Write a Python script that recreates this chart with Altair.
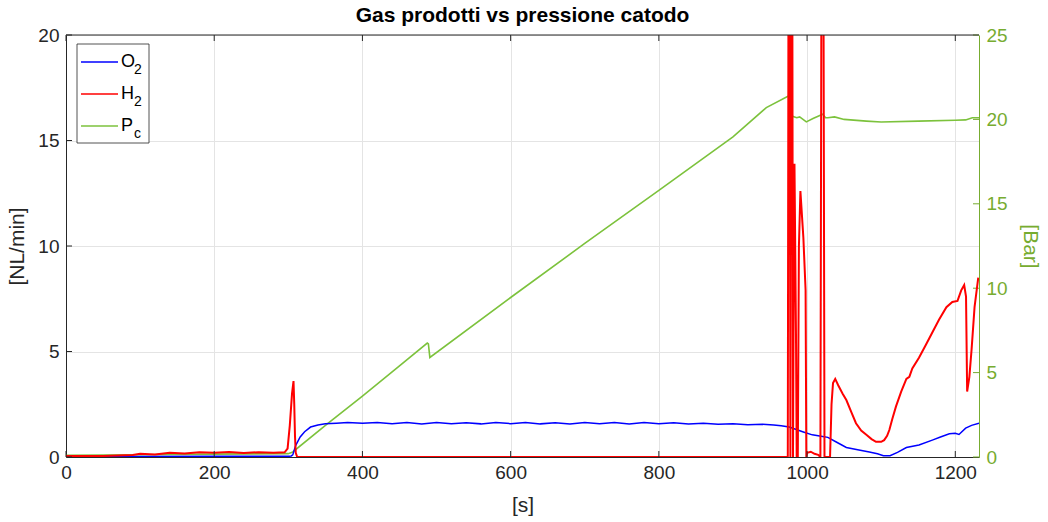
import altair as alt
import pandas as pd

# ---- measured series -------------------------------------------------------
# O2 flow [NL/min]
o2_t = [0, 100, 200, 300, 304, 306, 310, 316, 322, 330, 340, 350, 365, 380,
        400, 420, 440, 460, 480, 500, 520, 540, 560, 580, 600, 620, 640, 660,
        680, 700, 720, 740, 760, 780, 800, 820, 840, 860, 880, 900, 920, 940,
        955, 965, 976, 994, 1007, 1017, 1028, 1040, 1053, 1070, 1084, 1095,
        1103, 1112, 1122, 1134, 1151, 1169, 1180, 1192, 1200, 1205, 1214, 1222, 1232]
o2_v = [0.0, 0.02, 0.03, 0.03, 0.05, 0.1, 0.55, 0.95, 1.2, 1.42, 1.52, 1.58, 1.6, 1.63,
        1.6, 1.64, 1.58, 1.63, 1.57, 1.63, 1.58, 1.62, 1.57, 1.64, 1.58, 1.63, 1.57, 1.62,
        1.56, 1.63, 1.58, 1.64, 1.57, 1.63, 1.58, 1.62, 1.56, 1.6, 1.55, 1.58, 1.53, 1.55,
        1.52, 1.48, 1.42, 1.2, 1.05, 1.0, 0.93, 0.7, 0.45, 0.33, 0.24, 0.15,
        0.06, 0.06, 0.22, 0.45, 0.57, 0.8, 0.95, 1.1, 1.12, 1.07, 1.37, 1.5, 1.6]

# H2 flow [NL/min]
h2_t = [0, 50, 90, 100, 120, 140, 160, 180, 200, 220, 240, 260, 280, 295, 299, 302, 305, 307, 308, 309, 310, 312,
        974, 975, 976.5, 977.5, 978.5, 980, 981, 982, 983, 985, 986, 987.5, 989, 991, 995, 998, 999, 1000, 1005, 1010, 1015, 1018,
        1019.5, 1022, 1023.5, 1031, 1033, 1035, 1038, 1042, 1048, 1053, 1060, 1066, 1073, 1080, 1087, 1093, 1100, 1104, 1108, 1111,
        1115, 1120, 1127, 1134, 1138, 1142, 1151, 1160, 1169, 1178, 1188, 1196, 1203, 1208, 1212, 1214.5, 1216, 1219, 1222, 1226, 1231]
h2_v = [0.05, 0.05, 0.1, 0.15, 0.12, 0.2, 0.17, 0.22, 0.2, 0.24, 0.19, 0.23, 0.2, 0.22, 0.4, 1.5, 3.0, 3.6, 2.5, 1.0, 0.2, 0.0,
        0.0, 25, 25, 0.0, 25, 25, 0.0, 8.0, 13.9, 6.0, 0.0, 0.0, 10.0, 12.6, 10.4, 7.9, 0.0, 0.2, 0.25, 0.15, 0.1, 0.0,
        25, 25, 0.0, 0.0, 2.5, 3.5, 3.7, 3.4, 3.0, 2.7, 2.1, 1.6, 1.25, 1.05, 0.85, 0.72, 0.72, 0.8, 1.0, 1.28,
        1.8, 2.4, 3.1, 3.7, 3.8, 4.2, 4.7, 5.3, 5.9, 6.5, 7.1, 7.35, 7.4, 7.9, 8.15, 7.6, 3.1, 3.8, 5.1, 7.1, 8.5]

# cathode pressure [Bar]
pc_t = [0, 100, 200, 300, 306, 353, 400, 450, 487.5, 489, 491,
        600, 700, 800, 900, 945, 975.5, 978, 979.5, 986, 990, 999,
        1008, 1021, 1025, 1028, 1037, 1050, 1080, 1100, 1150, 1200, 1214, 1223, 1232]
pc_v = [0.1, 0.13, 0.17, 0.2, 0.3, 1.97, 3.6, 5.4, 6.75, 6.7, 5.9,
        9.45, 12.65, 15.8, 18.96, 20.7, 21.4, 20.5, 20.2, 20.1, 20.15, 19.85,
        20.05, 20.3, 20.1, 20.1, 20.15, 20.0, 19.9, 19.85, 19.9, 19.95, 19.97, 20.1, 20.1]

# ---- axes ------------------------------------------------------------------
x_ticks = [0, 200, 400, 600, 800, 1000, 1200]
flow_ticks = [0, 5, 10, 15, 20]
bar_ticks = [0, 5, 10, 15, 20, 25]
X_MAX = 1232

legend_main = ["O", "H", "P"]
legend_sub = ["2", "2", "c"]

W, H = 913, 422
FONT = "Liberation Sans"
INK = "#262626"
GRID = "#e4e4e4"
BLUE, RED = "#0000ff", "#ff0000"
GREEN_LINE, GREEN_AXIS = "#7cc23c", "#77ac30"
legend_colors = [BLUE, RED, GREEN_LINE]

o2 = pd.DataFrame({"t": o2_t, "v": o2_v})
h2 = pd.DataFrame({"t": h2_t, "v": h2_v})
pc = pd.DataFrame({"t": pc_t, "p": pc_v})
one_row = pd.DataFrame({"k": [0]})  # single datum for decoration marks

x_enc = alt.X(
    "t:Q",
    scale=alt.Scale(domain=[0, X_MAX], nice=False, zero=False),
    axis=alt.Axis(values=x_ticks, format="d", title="[s]", grid=True, gridColor=GRID,
                  ticks=False, domainColor=INK, labelColor=INK, titleColor=INK,
                  labelFont=FONT, titleFont=FONT, labelFontSize=19, titleFontSize=21,
                  titleFontWeight="normal", labelPadding=6, titlePadding=12,
                  labelFlush=False),
)
y_flow = alt.Y(
    "v:Q",
    scale=alt.Scale(domain=[0, 20], nice=False),
    axis=alt.Axis(values=flow_ticks, format="d", title="[NL/min]", orient="left", grid=True,
                  gridColor=GRID, ticks=False, domainColor=INK, labelColor=INK,
                  titleColor=INK, labelFont=FONT, titleFont=FONT, labelFontSize=19,
                  titleFontSize=21, titleFontWeight="normal", labelPadding=7,
                  titlePadding=10, labelFlush=False),
)
y_bar = alt.Y(
    "p:Q",
    scale=alt.Scale(domain=[0, 25], nice=False),
    axis=alt.Axis(values=bar_ticks, format="d", title="[Bar]", orient="right", grid=False,
                  ticks=False, domainColor=GREEN_AXIS, labelColor=GREEN_AXIS,
                  titleColor=GREEN_AXIS, labelFont=FONT, titleFont=FONT,
                  labelFontSize=19, titleFontSize=21, titleFontWeight="normal",
                  labelPadding=7, titlePadding=12, labelFlush=False),
)

# ---- data lines ------------------------------------------------------------
o2_line = alt.Chart(o2).mark_line(color=BLUE, strokeWidth=1.5, clip=True).encode(x=x_enc, y=y_flow)
h2_line = alt.Chart(h2).mark_line(color=RED, strokeWidth=2, clip=True).encode(x=x_enc, y=y_flow)
pc_line = alt.Chart(pc).mark_line(color=GREEN_LINE, strokeWidth=1.6, clip=True).encode(x=x_enc, y=y_bar)

# inward tick marks, MATLAB style
flow_tick_marks = alt.Chart(pd.DataFrame({"v": flow_ticks})).mark_rule(color=INK, strokeWidth=1).encode(
    y=y_flow, x=alt.value(0), x2=alt.value(6))
bar_tick_marks = alt.Chart(pd.DataFrame({"p": bar_ticks})).mark_rule(color=GREEN_AXIS, strokeWidth=1).encode(
    y=y_bar, x=alt.value(W), x2=alt.value(W - 6))
x_tick_df = pd.DataFrame({"t": x_ticks})
x_tick_bottom = alt.Chart(x_tick_df).mark_rule(color=INK, strokeWidth=1).encode(
    x=x_enc, y=alt.value(H), y2=alt.value(H - 6))
x_tick_top = alt.Chart(x_tick_df).mark_rule(color=INK, strokeWidth=1).encode(
    x=x_enc, y=alt.value(0), y2=alt.value(6))
top_border = alt.Chart(one_row).mark_rule(color=INK, strokeWidth=1).encode(
    x=alt.value(0), x2=alt.value(W), y=alt.value(0))

left = alt.layer(o2_line, h2_line, flow_tick_marks)
right = alt.layer(pc_line, bar_tick_marks)

# ---- legend box ------------------------------------------------------------
LX0, LX1, LY0, LY1 = 11, 83, 9, 108
legend_layers = [
    alt.Chart(one_row).mark_rect(fill="white", stroke=INK, strokeWidth=0.8).encode(
        x=alt.value(LX0), x2=alt.value(LX1), y=alt.value(LY0), y2=alt.value(LY1))
]
for i, (m, s, c) in enumerate(zip(legend_main, legend_sub, legend_colors)):
    yy = 27 + 32 * i
    legend_layers.append(
        alt.Chart(one_row).mark_rule(color=c, strokeWidth=1.6).encode(
            x=alt.value(15), x2=alt.value(52), y=alt.value(yy)))
    legend_layers.append(
        alt.Chart(one_row).mark_text(font=FONT, fontSize=18, fontWeight="normal",
                                     color="#000", align="left", baseline="middle").encode(
            x=alt.value(55), y=alt.value(yy), text=alt.value(m)))
    sub_x = 55 + 13
    legend_layers.append(
        alt.Chart(one_row).mark_text(font=FONT, fontSize=14, fontWeight="normal",
                                     color="#000", align="left", baseline="middle").encode(
            x=alt.value(sub_x), y=alt.value(yy + 8), text=alt.value(s)))

chart = alt.layer(
    right, left, x_tick_bottom, x_tick_top, top_border, *legend_layers
).resolve_scale(y="independent").properties(
    width=W, height=H,
    title=alt.TitleParams("Gas prodotti vs pressione catodo", font=FONT, fontSize=21,
                          fontWeight="bold", color="#000", anchor="middle", offset=0),
    padding={"left": 66, "top": 35, "right": 69, "bottom": 65},
    autosize=alt.AutoSizeParams(type="none"),
    background="white",
).configure_view(stroke=None)

chart.save("out.html", embed_options={"renderer": "svg", "actions": False})
